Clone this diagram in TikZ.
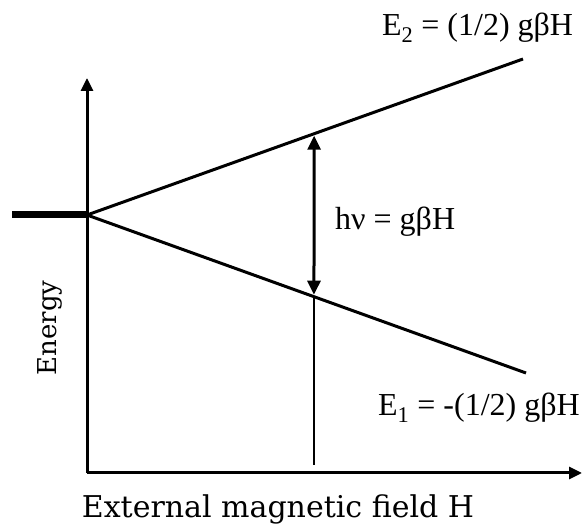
\documentclass[tikz,border=0pt]{standalone}
\usepackage{fontspec}
\setmainfont{Liberation Serif}
\newfontfamily\axisfont{DejaVu Serif}
\usetikzlibrary{arrows.meta}

\begin{document}
\begin{tikzpicture}[x=1pt, y=-1pt,
				axis/.style={line width=3pt, -{Triangle[length=13pt, width=12pt]}},
				levelline/.style={line width=3pt},
				gap/.style={line width=3pt, {Triangle[length=14pt, width=13pt]}-{Triangle[length=14pt, width=13pt]}, shorten <=2pt, shorten >=2pt},
				eqlabel/.style={inner sep=0pt, font=\fontsize{32}{36}\selectfont},
				axislabel/.style={inner sep=0pt, font=\axisfont\fontsize{26}{30}\selectfont}
				]
				\useasboundingbox (0,0) rectangle (582,526);
				\coordinate (origin) at (87,473);
				\coordinate (ytop) at (87,78);
				\coordinate (xend) at (582,473);
				\coordinate (split) at (87,215);
				\coordinate (zero) at (12,215);
				\coordinate (upper) at (523,59);
				\coordinate (lower) at (526,373);
				% axes
				\draw[axis] (origin) -- (ytop);
				\draw[axis] (origin) -- (xend);
				% levels
				\draw[line width=7pt] (zero) -- (split);
				\draw[levelline] (split) -- (upper) coordinate[pos=0.521] (hi);
				\draw[levelline] (split) -- (lower) coordinate[pos=0.517] (lo);
				\draw[gap] (hi) -- (lo);
				\draw[line width=2pt, shorten >=8pt] (lo) -- (lo |- origin);
				% labels
				\node[eqlabel, anchor=base west] (e2) at (382,36) {E\textsubscript{2} = (1/2) gβH};
				\node[eqlabel, anchor=base west] (e1) at (378,416) {E\textsubscript{1} = -(1/2) gβH};
				\node[eqlabel, anchor=base west] (hnu) at (335,230) {hν = gβH};
				\node[axislabel, anchor=base, font=\axisfont\fontsize{30}{34}\selectfont] (xlabel) at (278,518) {External magnetic field H};
				\node[axislabel, rotate=90] (ylabel) at (50,328) {Energy};
			\end{tikzpicture}
\end{document}
